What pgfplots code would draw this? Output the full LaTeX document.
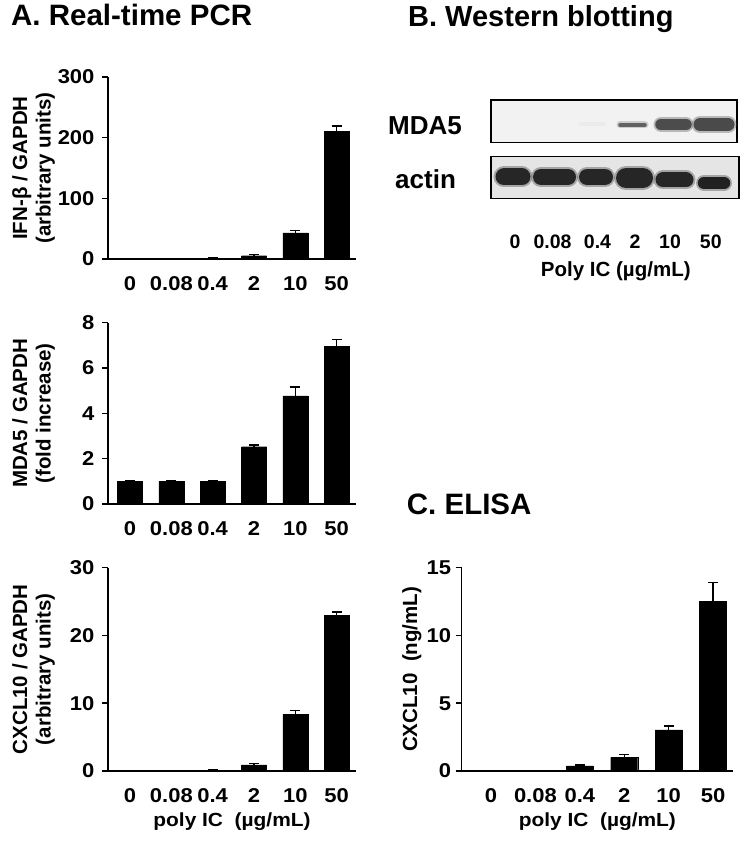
\documentclass[border=0pt]{standalone}
\usepackage{fontspec}
\setmainfont{Liberation Sans}
\newfontfamily\tickfont{Liberation Sans}[FakeStretch=1.1]
\usepackage{pgfplots}
\pgfplotsset{compat=1.18}

\pgfplotsset{
  pcr/.style={
    scale only axis, anchor=south west,
    ymin=0,
    axis lines=left, axis line style={-, line width=1.5pt, black},
    tick align=outside, major tick length=6pt,
    ytick style={line width=1.5pt, black},
    xtick={0,...,5}, xticklabels={0,0.08,0.4,2,10,50},
    xtick style={draw=none},
    /pgf/number format/assume math mode=true,
    tick label style={font=\tickfont\fontsize{20}{22}\selectfont\bfseries},
    xticklabel style={anchor=base, yshift=-25.7pt},
    yticklabel style={anchor=east},
    ylabel style={font=\fontsize{20.5}{23.3}\selectfont\bfseries, align=center, anchor=south, inner sep=0pt},
    xlabel style={font=\tickfont\fontsize{19}{22}\selectfont\bfseries, anchor=base, inner sep=0pt},
    ybar, bar shift=0pt,
    clip=false,
  },
  pcrA/.style={pcr, width=248pt, xmin=-0.532, xmax=5.467, bar width=25pt,
    yticklabel style={xshift=-4pt},
    ylabel style={at={(axis description cs:-0.2137,0.5)}}},
  blot/.style={scale only axis, anchor=south west, ticks=none,
    axis line style={line width=1.5pt, black}, clip=true},
  bars/.style={fill=black, draw=black, line width=0.3pt,
    error bars/.cd, y dir=plus, y explicit,
    error bar style={draw=black, solid, line width=1.4pt},
    error mark options={rotate=90, draw=black, line width=1.4pt, mark size=5pt}},
}

\begin{document}
\begin{tikzpicture}[x=1pt,y=1pt]
\path[use as bounding box] (0,0) rectangle (751,854);

% Titles
\node[anchor=base west, inner sep=0pt, font=\fontsize{29.5}{32}\selectfont\bfseries] at (11,828) {A. Real-time PCR};
\node[anchor=base west, inner sep=0pt, font=\fontsize{29}{32}\selectfont\bfseries] at (408,827.3) {B. Western blotting};
\node[anchor=base west, inner sep=0pt, font=\fontsize{29.5}{32}\selectfont\bfseries] at (406.7,339) {C. ELISA};

% A1 IFN-beta
\begin{axis}[pcrA, at={(108pt,595pt)}, height=182pt, ymax=300, ytick={0,100,200,300},
  ylabel={IFN-β / GAPDH\\(arbitrary units)}]
\addplot[bars] table[x=x, y=y, y error=e] {
x y e
0 0 0
1 0.3 0.5
2 1.5 1.0
3 5.5 2.0
4 43 4
5 210 9
};
\end{axis}

% A2 MDA5
\begin{axis}[pcrA, at={(108pt,350pt)}, height=181.3pt, ymax=8, ytick={0,2,4,6,8},
  ylabel={MDA5 / GAPDH\\(fold increase)}]
\addplot[bars] table[x=x, y=y, y error=e] {
x y e
0 1.0 0.03
1 1.0 0.03
2 1.0 0.03
3 2.53 0.07
4 4.77 0.40
5 6.97 0.30
};
\end{axis}

% A3 CXCL10
\begin{axis}[pcrA, at={(108pt,83pt)}, height=203.3pt, ymax=30, ytick={0,10,20,30},
  ylabel={CXCL10 / GAPDH\\(arbitrary units)},
  xlabel={poly IC\ \ (µg/mL)}, xlabel style={at={(axis description cs:0.5,-0.274)}}]
\addplot[bars] table[x=x, y=y, y error=e] {
x y e
0 0.02 0.02
1 0.05 0.05
2 0.10 0.15
3 0.90 0.20
4 8.36 0.55
5 23.0 0.45
};
\end{axis}

% C ELISA
\begin{axis}[pcr, at={(461.7pt,83pt)}, width=271.3pt, height=203.3pt,
  xmin=-0.66, xmax=5.45, bar width=27pt, ymax=15, ytick={0,5,10,15},
  yticklabel style={xshift=-1pt},
  ylabel={CXCL10\ \ (ng/mL)}, ylabel style={at={(axis description cs:-0.1474,0.5)}},
  xlabel={poly IC\ \ (µg/mL)}, xlabel style={at={(axis description cs:0.5,-0.274)}}]
\addplot[bars] table[x=x, y=y, y error=e] {
x y e
0 0 0
1 0 0
2 0.37 0.08
3 1.01 0.22
4 3.03 0.30
5 12.5 1.4
};
\end{axis}

% B Western blot: MDA5 membrane
\begin{axis}[blot, at={(491pt,711.7pt)}, width=246pt, height=42.3pt,
  xmin=491, xmax=737, ymin=711.7, ymax=754,
  axis background/.style={fill=black!5}]
\addplot[line width=4pt, line cap=round, color=black!8] coordinates {(581,729.5) (604,729.5)};
\addplot[line width=7pt, line cap=round, color=black!35, opacity=0.5] coordinates {(620,729) (645,729)};
\addplot[line width=3.5pt, line cap=round, color=black!62] coordinates {(620,729) (645,729)};
\addplot[line width=15pt, line cap=round, color=black!55, opacity=0.45] coordinates {(661,729.5) (686,729.5)};
\addplot[line width=11.5pt, line cap=round, color=black!70] coordinates {(661,729.5) (686,729.5)};
\addplot[line width=17pt, line cap=round, color=black!55, opacity=0.45] coordinates {(700,729.5) (728,729.5)};
\addplot[line width=13pt, line cap=round, color=black!71] coordinates {(700,729.5) (728,729.5)};
\end{axis}

% B Western blot: actin membrane
\begin{axis}[blot, at={(491pt,655.7pt)}, width=248pt, height=41.6pt,
  xmin=491, xmax=739, ymin=655.7, ymax=697.3,
  axis background/.style={fill=black!10}]
\addplot[line width=21pt, line cap=round, color=black!60, opacity=0.5] coordinates {(504,677) (522,677)};
\addplot[line width=17pt, line cap=round, color=black!85] coordinates {(504,677) (522,677)};
\addplot[line width=20pt, line cap=round, color=black!60, opacity=0.5] coordinates {(541,677) (568,677)};
\addplot[line width=16pt, line cap=round, color=black!85] coordinates {(541,677) (568,677)};
\addplot[line width=20pt, line cap=round, color=black!60, opacity=0.5] coordinates {(587,677) (605,677)};
\addplot[line width=16pt, line cap=round, color=black!85] coordinates {(587,677) (605,677)};
\addplot[line width=24pt, line cap=round, color=black!60, opacity=0.5] coordinates {(626,676) (643,676)};
\addplot[line width=20pt, line cap=round, color=black!85] coordinates {(626,676) (643,676)};
\addplot[line width=19pt, line cap=round, color=black!60, opacity=0.5] coordinates {(663,674) (686,674)};
\addplot[line width=15pt, line cap=round, color=black!85] coordinates {(663,674) (686,674)};
\addplot[line width=16pt, line cap=round, color=black!60, opacity=0.5] coordinates {(704,671) (724,671)};
\addplot[line width=12.5pt, line cap=round, color=black!87] coordinates {(704,671) (724,671)};
\end{axis}

% Blot labels
\node[anchor=base west, inner sep=0pt, font=\fontsize{26}{30}\selectfont\bfseries] at (388,719) {MDA5};
\node[anchor=base west, inner sep=0pt, font=\fontsize{26}{30}\selectfont\bfseries] at (395,665.7) {actin};
\begin{scope}[every node/.style={anchor=base, inner sep=0pt, font=\fontsize{19.5}{22}\selectfont\bfseries}]
\node at (515,605.7) {0};
\node at (552.5,605.7) {0.08};
\node at (597.5,605.7) {0.4};
\node at (635,605.7) {2};
\node at (670,605.7) {10};
\node at (710.8,605.7) {50};
\end{scope}
\node[anchor=base, inner sep=0pt, font=\fontsize{20.5}{24}\selectfont\bfseries] at (615.8,577.3) {Poly IC (µg/mL)};
\end{tikzpicture}
\end{document}
